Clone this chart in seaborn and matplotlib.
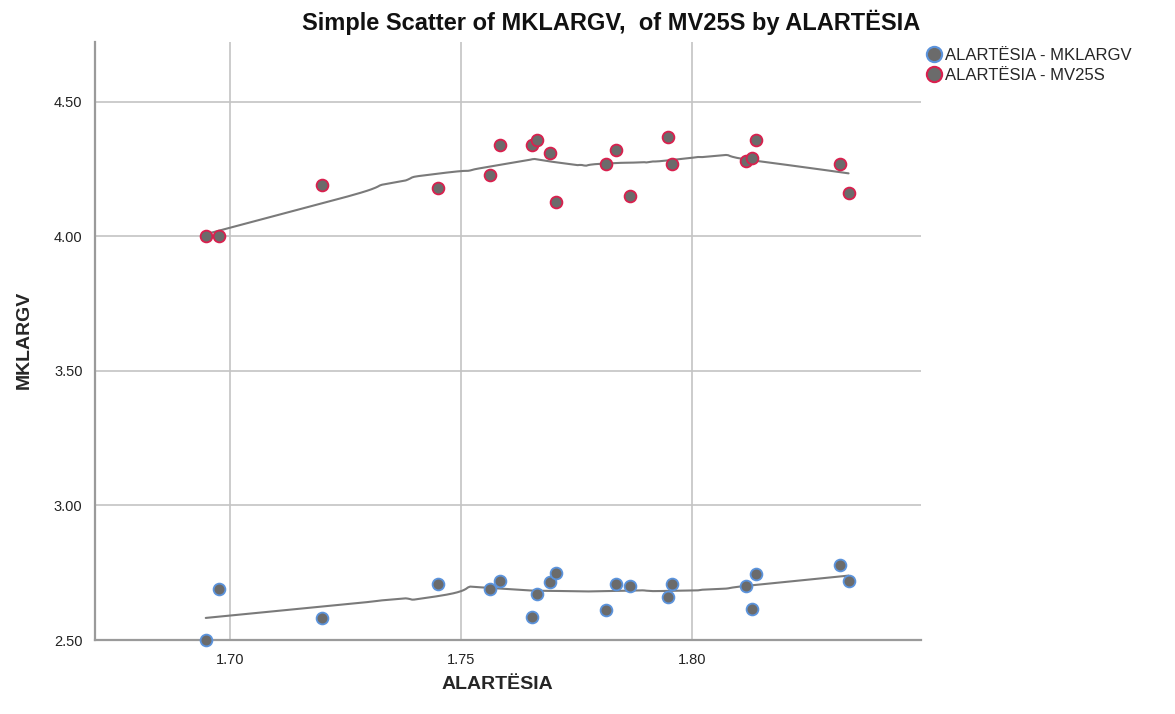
import numpy as np
import pandas as pd
import matplotlib
matplotlib.use("Agg")
import matplotlib.pyplot as plt
from matplotlib.lines import Line2D
import seaborn as sns

# ALARTËSIA values (shared by both series)
alartesia = [1.6947, 1.6976, 1.7200, 1.7450, 1.7562, 1.7584, 1.7653, 1.7664,
             1.7694, 1.7705, 1.7815, 1.7835, 1.7866, 1.7948, 1.7957, 1.8117,
             1.8130, 1.8139, 1.8321, 1.8340]
mklargv = [2.50, 2.69, 2.58, 2.71, 2.69, 2.72, 2.585, 2.67,
           2.715, 2.75, 2.61, 2.71, 2.70, 2.66, 2.71, 2.70,
           2.615, 2.745, 2.78, 2.72]
mv25s = [4.00, 4.00, 4.19, 4.18, 4.23, 4.34, 4.34, 4.36,
         4.31, 4.13, 4.27, 4.32, 4.15, 4.37, 4.27, 4.28,
         4.29, 4.36, 4.27, 4.16]

series_names = ["ALARTËSIA - MKLARGV", "ALARTËSIA - MV25S"]
edge_colors = ["#5b93dc", "#d9204e"]
y_ticks = [2.50, 3.00, 3.50, 4.00, 4.50]
x_ticks = [1.70, 1.75, 1.80]

df = pd.DataFrame({
    "ALARTËSIA": alartesia * 2,
    "value": mklargv + mv25s,
    "series": [series_names[0]] * len(alartesia) + [series_names[1]] * len(alartesia),
})


def loess(x, y, grid, frac=0.5):
    """Local linear fit with an Epanechnikov kernel over the nearest frac of points."""
    x = np.asarray(x, float)
    y = np.asarray(y, float)
    k = int(np.ceil(frac * len(x)))
    out = []
    for g in grid:
        d = np.abs(x - g)
        h = np.sort(d)[k - 1] * 1.0001
        u = d / h
        w = np.where(u < 1, 0.75 * (1 - u ** 2), 0.0)
        W = w.sum()
        xm = (w * x).sum() / W
        ym = (w * y).sum() / W
        sxx = (w * (x - xm) ** 2).sum()
        b = (w * (x - xm) * (y - ym)).sum() / sxx if sxx > 0 else 0.0
        out.append(ym + b * (g - xm))
    return np.array(out)


sns.set_theme(style="white")
plt.rcParams["font.family"] = ["Liberation Sans", "DejaVu Sans"]

fig = plt.figure(figsize=(11.75, 7.14), dpi=100)
ax = fig.add_axes([95 / 1175, 1 - 640 / 714, (921 - 95) / 1175, (640 - 42) / 714])

grid = np.linspace(min(alartesia), max(alartesia), 300)
fit_rows = []
for name, vals in zip(series_names, [mklargv, mv25s]):
    fit_rows.append(pd.DataFrame({"ALARTËSIA": grid,
                                  "fit": loess(alartesia, vals, grid),
                                  "series": name}))
fits = pd.concat(fit_rows, ignore_index=True)

for name in series_names:
    sns.lineplot(data=fits[fits["series"] == name], x="ALARTËSIA", y="fit",
                 color="#7a7a7a", linewidth=1.5, ax=ax, legend=False, zorder=3,
                 estimator=None, sort=False)

for name, ec in zip(series_names, edge_colors):
    sns.scatterplot(data=df[df["series"] == name], x="ALARTËSIA", y="value",
                    color="#6b6b6b", edgecolor=ec, linewidth=1.3, s=72,
                    ax=ax, legend=False, zorder=4, clip_on=False)

ax.set_xlim(1.6707, 1.8497)
ax.set_ylim(2.5, 4.723)
ax.set_xticks(x_ticks)
ax.set_xticklabels([f"{v:.2f}" for v in x_ticks])
ax.set_yticks(y_ticks)
ax.set_yticklabels([f"{v:.2f}" for v in y_ticks])
ax.tick_params(axis="x", length=0, labelsize=10.5, colors="#222222", pad=9)
ax.tick_params(axis="y", length=0, labelsize=10.5, colors="#222222", pad=9)
ax.grid(True, color="#c4c4c4", linewidth=1.2)
ax.set_axisbelow(True)
for side in ["top", "right"]:
    ax.spines[side].set_visible(False)
for side in ["left", "bottom"]:
    ax.spines[side].set_color("#9a9a9a")
    ax.spines[side].set_linewidth(1.6)

ax.set_xlabel("ALARTËSIA", fontsize=14, fontweight="bold")
ax.set_ylabel("MKLARGV", fontsize=14, fontweight="bold")
ax.xaxis.set_label_coords((497 - 95) / 826, -(676 - 640) / 598)
ax.yaxis.set_label_coords((33 - 95) / 826, (640 - 340) / 598)

fig.text(611 / 1175, 1 - 22 / 714, "Simple Scatter of MKLARGV,  of MV25S by ALARTËSIA",
         ha="center", va="center", fontsize=17, fontweight="bold", color="#111111")

handles = [Line2D([], [], linestyle="none", marker="o", markersize=11,
                  markerfacecolor="#6b6b6b", markeredgecolor=ec, markeredgewidth=1.5)
           for ec in edge_colors]
fig.legend(handles, series_names, loc="upper left",
           bbox_to_anchor=(917 / 1175, 1 - 41 / 714), frameon=False,
           fontsize=12, handletextpad=0.1, labelspacing=0.3, borderaxespad=0,
           handlelength=1.2)

fig.savefig("out.png", dpi=100)
